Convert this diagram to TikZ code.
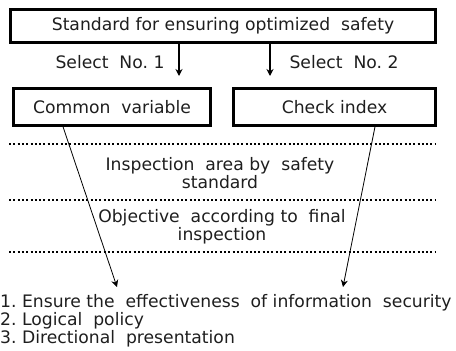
\documentclass[tikz,border=0pt]{standalone}
\usepackage{fontspec}
\setmainfont{DejaVu Sans}
\usepackage{xcolor}
\usetikzlibrary{arrows.meta,positioning}
\definecolor{inkgray}{RGB}{30, 30, 30}
\tikzset{
  stdbox/.style={draw=black, line width=2.4pt, inner sep=0pt, align=center},
  layerline/.style={line width=2pt, dash pattern=on 2pt off 2.3pt},
  selarrow/.style={-{Stealth[length=7pt, width=7pt]}, line width=1.3pt},
  flowline/.style={-{Stealth[length=7pt, width=7pt]}, line width=0.8pt},
  lbl/.style={font=\fontsize{17.2}{21}\selectfont, text=inkgray}
}

\begin{document}
\begin{tikzpicture}[x=1pt, y=-1pt]
  \useasboundingbox (0,0) rectangle (456,351);
  % top box
  \node[stdbox, lbl, minimum width=425pt, minimum height=33pt] (std) at (223,26) {Standard for ensuring optimized\ \ safety};
  % two selected boxes
  \node[stdbox, lbl, minimum width=197pt, minimum height=37pt] (common) at (112,107) {Common\ \ variable};
  \node[stdbox, lbl, minimum width=202pt, minimum height=37pt] (check) at (334.5,107) {Check index};
  % selection arrows
  \coordinate (sel1) at (179,76);
  \coordinate (sel2) at (270,76);
  \draw[selarrow] (std.south -| sel1) -- (sel1);
  \draw[selarrow] (std.south -| sel2) -- (sel2);
  \node[lbl, anchor=east] (sel1lbl) at (168,62) {Select\ \ No.\ 1};
  \node[lbl, anchor=west] (sel2lbl) at (286,62) {Select\ \ No.\ 2};
  % dotted layers
  \coordinate (l1w) at (9,144);  \coordinate (l1e) at (435,144);
  \coordinate (l2w) at (9,200);  \coordinate (l2e) at (435,200);
  \coordinate (l3w) at (9,252);  \coordinate (l3e) at (435,252);
  \draw[layerline] (l1w) -- (l1e);
  \draw[layerline] (l2w) -- (l2e);
  \draw[layerline] (l3w) -- (l3e);
  \node[lbl, align=center] (area) at (220,173) {Inspection\ \ area by\ \ safety\\[-3pt]standard};
  \node[lbl, align=center] (goal) at (222,227) {Objective\ \ according to\ \ final\\[-3pt]inspection};
  % result list
  \node[lbl, align=left, anchor=west, inner sep=0pt] (result) at (0,321)
    {1.\ Ensure the\ \ effectiveness\ \ of information\ \ security\\[-3pt]
     2.\ Logical\ \ policy\\[-3pt]
     3.\ Directional\ \ presentation};
  \coordinate (tip1) at (117,287);
  \coordinate (tip2) at (343,287);
  \draw[flowline] (common.south -| 63,0) -- (tip1);
  \draw[flowline] (check.south -| 375,0) -- (tip2);
\end{tikzpicture}
\end{document}
